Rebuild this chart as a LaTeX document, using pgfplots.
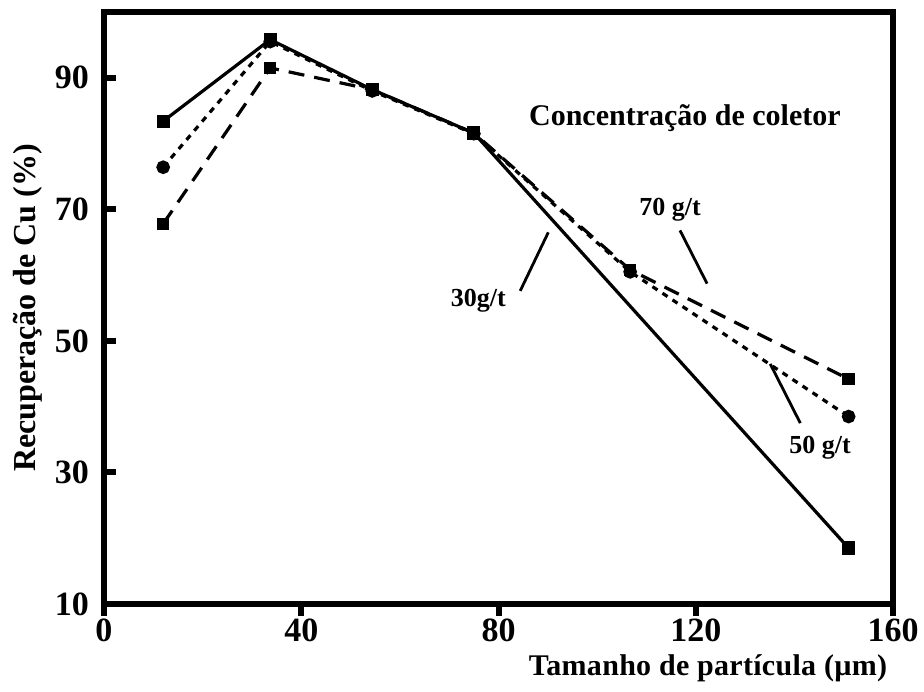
\documentclass[border=0pt]{standalone}
\usepackage{pgfplots}
\pgfplotsset{compat=1.18}
\usepackage{fontspec}
\setmainfont{Liberation Serif}
\begin{document}
\begin{tikzpicture}
\useasboundingbox (-52pt,-43.5pt) rectangle (410pt,302pt);
\begin{axis}[
  at={(0,0)}, anchor=origin,
  scale only axis, width=394.5pt, height=296pt,
  xmin=0, xmax=160, ymin=10, ymax=100,
  xtick={0,40,80,120,160}, ytick={10,30,50,70,90},
  axis line style={line width=3pt},
  xtick pos=bottom, ytick pos=left,
  tick style={black, line width=3pt},
  xtick align=outside, ytick align=inside,
  major tick length=6pt,
  every tick label/.append style={font=\fontsize{17}{17}\bfseries},
  /pgf/number format/assume math mode=true,
  xticklabel style={yshift=2pt},
  yticklabel style={xshift=-4pt},
  xlabel={\addfontfeature{LetterSpace=1}Tamanho de partícula (µm)},
  ylabel={Recuperação de Cu (\%)},
  every axis x label/.style={at={(302pt,-32pt)}, anchor=center, font=\fontsize{15}{15}\bfseries},
  every axis y label/.style={at={(-38pt,148pt)}, rotate=90, anchor=center, font=\fontsize{16}{16}\bfseries},
  clip=false,
]
% 30 g/t
\addplot[black, line width=1.6pt, mark=square*, mark size=2.5pt] coordinates {
  (12,83.4) (33.7,95.8) (54.4,88.2) (75,81.6) (151,18.5)};
% 50 g/t
\addplot[black, line width=1.6pt, dash pattern=on 3pt off 3pt, mark=*, mark size=2.6pt, mark options={solid}] coordinates {
  (12,76.4) (33.7,95.5) (54.4,88) (75,81.5) (106.7,60.5) (151,38.5)};
% 70 g/t
\addplot[black, line width=1.6pt, dash pattern=on 8pt off 5pt, mark=square*, mark size=2.3pt, mark options={solid}] coordinates {
  (12,67.8) (33.7,91.5) (54.4,88.2) (75,81.6) (106.7,60.8) (151,44.2)};
\node[font=\fontsize{15}{15}\bfseries] at (axis cs:117.8,83.9) {Concentração de coletor};
\node[font=\fontsize{13}{13}\bfseries] at (axis cs:114.8,70) {70 g/t};
\node[font=\fontsize{13}{13}\bfseries] at (axis cs:75.9,56.1) {30g/t};
\node[font=\fontsize{13}{13}\bfseries] at (axis cs:145.2,33.7) {50 g/t};
\draw[line width=1.4pt] (axis cs:116.8,66.8) -- (axis cs:122.3,58.7);
\draw[line width=1.4pt] (axis cs:135.1,46.5) -- (axis cs:141.2,37.5);
\draw[line width=1.4pt] (axis cs:84.4,57.6) -- (axis cs:90.1,66.5);
\end{axis}
\end{tikzpicture}
\end{document}
